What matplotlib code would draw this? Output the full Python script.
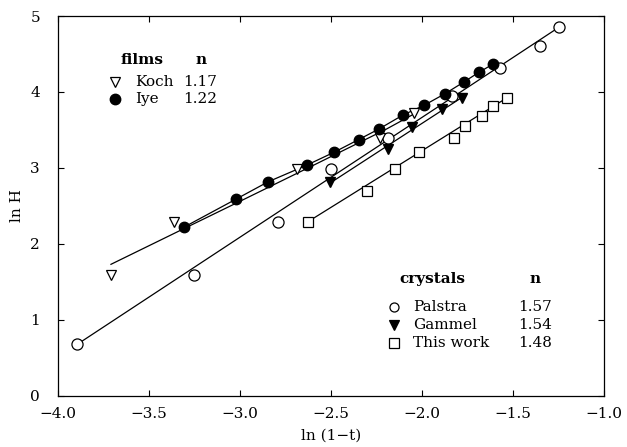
import numpy as np
import matplotlib
matplotlib.use("Agg")
import matplotlib.pyplot as plt

plt.rcParams['font.family'] = ['DejaVu Serif']

# Palstra (crystals), open circles
palstra_x = [-3.894, -3.254, -2.790, -2.502, -2.185, -1.835, -1.571, -1.352, -1.246]
palstra_y = [0.677, 1.586, 2.285, 2.987, 3.395, 3.940, 4.310, 4.610, 4.854]
palstra_fit_x = [-3.894, -1.246]
palstra_fit_y = [0.677, 4.854]

# Gammel (crystals), filled down triangles
gammel_x = [-2.505, -2.189, -2.055, -1.892, -1.779]
gammel_y = [2.810, 3.243, 3.540, 3.773, 3.925]
gammel_fit_x = [-2.505, -1.779]
gammel_fit_y = [2.800, 3.930]

# This work (crystals), open squares
work_x = [-2.628, -2.303, -2.149, -2.018, -1.826, -1.763, -1.668, -1.612, -1.535]
work_y = [2.289, 2.702, 2.988, 3.213, 3.400, 3.553, 3.689, 3.812, 3.920]
work_fit_x = [-2.628, -1.535]
work_fit_y = [2.289, 3.920]

# Koch (films), open down triangles
koch_x = [-3.709, -3.361, -2.685, -2.229, -2.042]
koch_y = [1.594, 2.285, 2.990, 3.395, 3.720]
koch_fit_x = [-3.709, -3.308, -3.000, -2.600, -2.200, -2.040]
koch_fit_y = [1.730, 2.200, 2.560, 3.030, 3.505, 3.715]

# Iye (films), filled circles
iye_x = [-3.308, -3.022, -2.846, -2.634, -2.482, -2.348, -2.238, -2.106,
         -1.987, -1.872, -1.771, -1.689, -1.610]
iye_y = [2.219, 2.588, 2.816, 3.035, 3.207, 3.373, 3.510, 3.694,
         3.826, 3.979, 4.129, 4.256, 4.366]

fig = plt.figure(figsize=(6.27, 4.47), dpi=100)
ax = fig.add_axes([0.0925, 0.1148, 0.8708, 0.8494])

lw = 0.9
ax.plot(palstra_fit_x, palstra_fit_y, color='black', lw=lw)
ax.plot(gammel_fit_x, gammel_fit_y, color='black', lw=lw)
ax.plot(work_fit_x, work_fit_y, color='black', lw=lw)
ax.plot(koch_fit_x, koch_fit_y, color='black', lw=lw)
ax.plot(iye_x, iye_y, color='black', lw=lw)

ax.plot(palstra_x, palstra_y, 'o', ms=8, mfc='white', mec='black', mew=0.9, ls='none')
ax.plot(gammel_x, gammel_y, 'v', ms=7, mfc='black', mec='black', ls='none')
ax.plot(work_x, work_y, 's', ms=7, mfc='white', mec='black', mew=0.9, ls='none')
ax.plot(koch_x, koch_y, 'v', ms=7.5, mfc='white', mec='black', mew=0.9, ls='none')
ax.plot(iye_x, iye_y, 'o', ms=7.5, mfc='black', mec='black', ls='none')

# films legend
fs = 11
ax.text(-3.659, 4.42, 'films', fontsize=fs, weight='bold', va='center')
ax.text(-3.242, 4.42, 'n', fontsize=fs, weight='bold', va='center')
ax.plot([-3.687], [4.133], 'v', ms=7, mfc='white', mec='black', mew=0.9)
ax.text(-3.577, 4.133, 'Koch', fontsize=fs, va='center')
ax.text(-3.313, 4.133, '1.17', fontsize=fs, va='center')
ax.plot([-3.687], [3.909], 'o', ms=7.5, mfc='black', mec='black')
ax.text(-3.577, 3.909, 'Iye', fontsize=fs, va='center')
ax.text(-3.313, 3.909, '1.22', fontsize=fs, va='center')

# crystals legend
ax.text(-2.126, 1.537, 'crystals', fontsize=fs, weight='bold', va='center')
ax.text(-1.407, 1.537, 'n', fontsize=fs, weight='bold', va='center')
rows = [(1.168, 'o', 'white', 'Palstra', '1.57'),
        (0.930, 'v', 'black', 'Gammel', '1.54'),
        (0.694, 's', 'white', 'This work', '1.48')]
for yy, mk, fc, name, n in rows:
    ax.plot([-2.154], [yy], mk, ms=6.5, mfc=fc, mec='black', mew=0.9)
    ax.text(-2.049, yy, name, fontsize=fs, va='center')
    ax.text(-1.473, yy, n, fontsize=fs, va='center')

ax.set_xlim(-4.0, -1.0)
ax.set_ylim(0, 5)
ax.set_xticks(np.arange(-4.0, -0.99, 0.5))
ax.set_xticklabels(['\u22124.0', '\u22123.5', '\u22123.0', '\u22122.5',
                    '\u22122.0', '\u22121.5', '\u22121.0'])
ax.set_yticks(range(0, 6))
ax.tick_params(direction='in', length=4, width=0.8, top=True, right=True,
               labelsize=11)
ax.tick_params(axis='x', pad=8)
ax.tick_params(axis='y', pad=13)
for s in ax.spines.values():
    s.set_linewidth(0.9)

ax.set_xlabel('ln (1\u2212t)', fontsize=11, labelpad=6)
ax.set_ylabel('ln H', fontsize=11)
ax.yaxis.set_label_coords(-0.062, 0.5)

fig.savefig('out.png', dpi=100)
